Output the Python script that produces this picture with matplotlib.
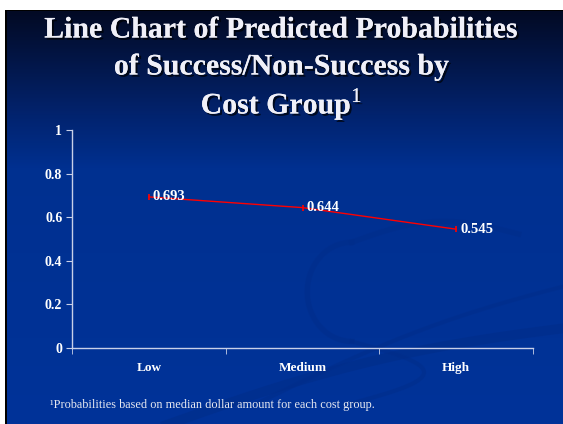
import numpy as np
import matplotlib
matplotlib.use('Agg')
import matplotlib.pyplot as plt
import matplotlib.patheffects as pe
from matplotlib.colors import LinearSegmentedColormap

groups = ['Low', 'Medium', 'High']
probs = [0.693, 0.644, 0.545]
yticks = [0, 0.2, 0.4, 0.6, 0.8, 1]
ylabels = ['0', '0.2', '0.4', '0.6', '0.8', '1']
title_lines = ['Line Chart of Predicted Probabilities',
               'of Success/Non-Success by',
               r'Cost Group$^1$']
footnote = '\u00b9Probabilities based on median dollar amount for each cost group.'

plt.rcParams['font.family'] = ['Liberation Serif', 'DejaVu Serif']
plt.rcParams['mathtext.fontset'] = 'custom'
plt.rcParams['mathtext.rm'] = 'Liberation Serif'

W, H = 563, 424
fig = plt.figure(figsize=(W / 100, H / 100), dpi=100, facecolor='white')

# slide frame + background gradient
frame = fig.add_axes([5 / W, 0, 1 - 5 / W, 1 - 10 / H])
frame.set_facecolor('black')
frame.set_xticks([]); frame.set_yticks([])
for s in frame.spines.values():
    s.set_visible(False)

bg = fig.add_axes([7 / W, 0, 1 - 7 / W, 1 - 11 / H])
cmap = LinearSegmentedColormap.from_list(
    'slide', [(0, '#030a24'), (0.25, '#02236e'), (0.38, '#003090'), (1, '#003399')])
grad = np.linspace(0, 1, 256).reshape(-1, 1)
bg.imshow(grad, aspect='auto', cmap=cmap, extent=[0, 1, 1, 0])
# faint swooshes in lower right
t = np.linspace(0, 1, 200)
swoosh = '#002d8a'
bg.plot(0.25 + 0.8 * t, 1.02 - 0.26 * t - 0.04 * np.sin(np.pi * t), color=swoosh, lw=7, alpha=0.6)
bg.plot(0.45 + 0.6 * t, 0.95 - 0.30 * t - 0.03 * np.sin(np.pi * t), color=swoosh, lw=3, alpha=0.5)
th = np.linspace(0.5 * np.pi, 1.5 * np.pi, 200)
bg.plot(0.62 + 0.08 * np.cos(th), 0.68 + 0.12 * np.sin(th), color=swoosh, lw=4, alpha=0.5)
bg.plot(0.62 + 0.30 * t, 0.56 - 0.04 * np.sin(np.pi * t) - 0.02 * t, color=swoosh, lw=4, alpha=0.5)
bg.plot(0.62 + 0.13 * np.sin(np.pi * t), 0.80 + 0.15 * t, color=swoosh, lw=3, alpha=0.5)
bg.set_xlim(0, 1); bg.set_ylim(1, 0)
bg.axis('off')

# title
shadow = [pe.withSimplePatchShadow(offset=(1.5, -1.5), shadow_rgbFace='black', alpha=0.7), pe.Normal()]
for i, line in enumerate(title_lines):
    fig.text(0.5, 1 - (30 + 37 * i) / H, line, ha='center', va='center', color='#f0f0f8',
             fontsize=21.5, fontweight='bold', path_effects=shadow)

# chart
ax = fig.add_axes([72 / W, 1 - 348 / H, (533 - 72) / W, (348 - 130) / H])
ax.patch.set_visible(False)
ax.plot(groups, probs, color='red', lw=1, marker='|', ms=5, mew=1.2)
for g, p in zip(groups, probs):
    ax.annotate('{:.3f}'.format(p), (g, p), xytext=(3, 0), textcoords='offset points',
                va='center', ha='left', color='white', fontsize=10.5, fontweight='bold')

ax.set_xlim(-0.5, 2.5)
ax.set_ylim(0, 1)
ax.set_yticks(yticks)
ax.set_yticklabels(ylabels)
ax.set_xticks(range(len(groups)))
ax.set_xticklabels(groups)
ax.set_xticks([-0.5, 0.5, 1.5, 2.5], minor=True)
ax.tick_params(axis='x', which='major', length=0, pad=10, colors='white', labelsize=9.5)
ax.tick_params(axis='x', which='minor', length=4, direction='out', color='#c8d0e8')
ax.tick_params(axis='y', length=4, direction='out', colors='white', labelsize=10, pad=3)
ax.tick_params(axis='y', color='#c8d0e8')
for lab in ax.get_xticklabels() + ax.get_yticklabels():
    lab.set_fontweight('bold')
for side in ['top', 'right']:
    ax.spines[side].set_visible(False)
for side in ['left', 'bottom']:
    ax.spines[side].set_color('#c8d0e8')
    ax.spines[side].set_linewidth(1)

fig.text(50 / W, 1 - 405 / H, footnote, ha='left', va='center', color='#e6e8f0', fontsize=8.8)

fig.savefig('out.png', dpi=100, facecolor='white')
